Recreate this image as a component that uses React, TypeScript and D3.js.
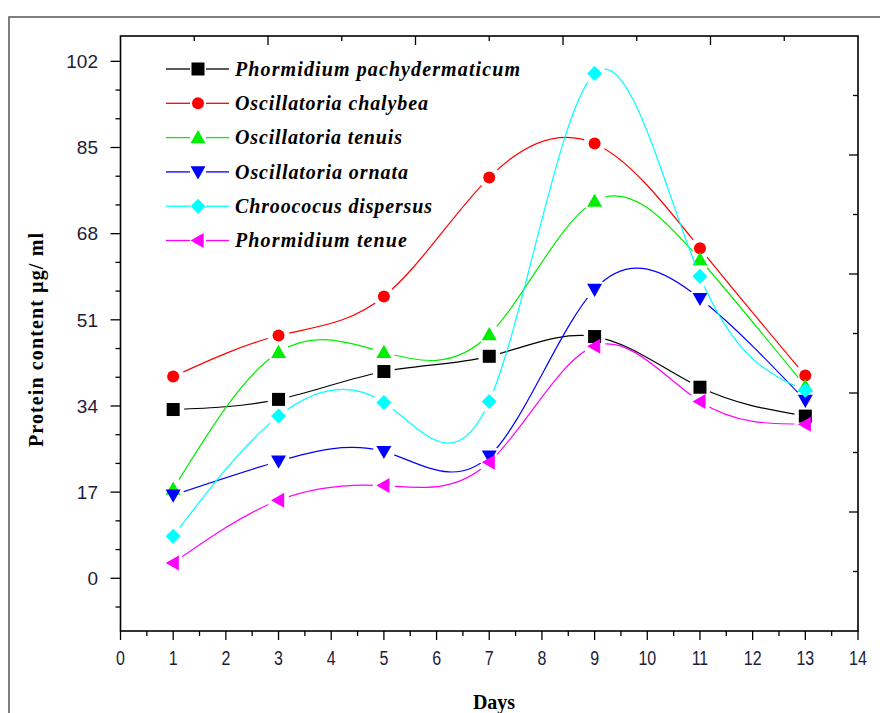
import React from 'react';
import * as d3 from 'd3';

const days = [1, 3, 5, 7, 9, 11, 13];
const seriesNames = [
  'Phormidium pachydermaticum',
  'Oscillatoria chalybea',
  'Oscillatoria tenuis',
  'Oscillatoria ornata',
  'Chroococus dispersus',
  'Phormidium tenue',
];
const pachydermaticum = [33.3, 35.3, 40.8, 43.8, 47.7, 37.7, 32.0];
const chalybea = [39.8, 47.9, 55.6, 79.1, 85.8, 65.1, 40.0];
const tenuis = [17.6, 44.6, 44.6, 48.1, 74.4, 62.9, 37.9];
const ornata = [16.4, 23.1, 25.0, 24.1, 57.0, 55.2, 35.1];
const dispersus = [8.3, 32.0, 34.7, 34.9, 99.6, 59.6, 37.1];
const tenue = [3.0, 15.4, 18.3, 22.9, 45.8, 34.9, 30.4];
const colors = ['#000000', '#ff0000', '#00ee00', '#0000ff', '#00ffff', '#ff00ff'];
const symbols = ['square', 'circle', 'up', 'down', 'diamond', 'left'];
const legendWidths = [285, 193, 167, 173, 197, 172];
const yTicks = [0, 17, 34, 51, 68, 85, 102];
const xTicks = d3.range(0, 15);

const W = 880;
const H = 713;
const left = 120.5;
const right = 858;
const top = 36;
const bottom = 631;

function Marker({ type, x, y, color }: { type: string; x: number; y: number; color: string }) {
  const s = 7.5;
  if (type === 'square') return <rect x={x - 6.5} y={y - 6.5} width={13} height={13} fill={color} />;
  if (type === 'circle') return <circle cx={x} cy={y} r={6} fill={color} />;
  let pts = '';
  if (type === 'up') pts = `${x},${y - s} ${x + s},${y + s * 0.75} ${x - s},${y + s * 0.75}`;
  if (type === 'down') pts = `${x},${y + s} ${x + s},${y - s * 0.75} ${x - s},${y - s * 0.75}`;
  if (type === 'left') pts = `${x - s},${y} ${x + s * 0.75},${y - s} ${x + s * 0.75},${y + s}`;
  if (type === 'diamond') pts = `${x},${y - s} ${x + s},${y} ${x},${y + s} ${x - s},${y}`;
  return <polygon points={pts} fill={color} />;
}

export default function App() {
  const allSeries = [pachydermaticum, chalybea, tenuis, ornata, dispersus, tenue];
  const x = d3.scaleLinear().domain([0, 14]).range([left, right]);
  const y = d3.scaleLinear().domain([-10.4, 107]).range([bottom, top]);
  const xTop = d3.scaleLinear().domain([0, 10]).range([left, right]);
  const yRight = d3.scaleLinear().domain([0, 10]).range([bottom, top]);

  const line = d3
    .line<number>()
    .x((_, i) => x(days[i]))
    .y((d) => y(d))
    .curve(d3.curveNatural);

  const yMinor = d3.range(-2, 20).map((k) => (k * 17) / 3).filter((v) => v >= -10.4 && v <= 107);
  const xMinor = d3.range(0, 29).map((k) => k / 2);

  return (
    <svg width={W} height={H} style={{ position: 'absolute', left: 0, top: 0, background: '#fff' }}>
      <defs>
        {allSeries.map((vals, si) => (
          <mask id={`gap${si}`} key={si} maskUnits="userSpaceOnUse" x={0} y={0} width={W} height={H}>
            <rect x={0} y={0} width={W} height={H} fill="#fff" />
            {vals.map((v, i) => (
              <circle key={i} cx={x(days[i])} cy={y(v)} r={11} fill="#000" />
            ))}
          </mask>
        ))}
      </defs>
      {/* outer frame */}
      <path d={`M9,${H + 2} V17 H${W + 2}`} fill="none" stroke="#555" strokeWidth={1.5} />

      {/* plot frame */}
      <rect x={left} y={top} width={right - left} height={bottom - top} fill="none" stroke="#000" strokeWidth={1.6} />

      {/* left axis ticks */}
      {yMinor.map((v, i) => {
        const major = Math.abs(v / 17 - Math.round(v / 17)) < 1e-6;
        return <line key={i} x1={left} x2={left - (major ? 10 : 5)} y1={y(v)} y2={y(v)} stroke="#000" strokeWidth={1.3} />;
      })}
      {yTicks.map((t) => (
        <text key={t} x={98} y={y(t)} dy="0.36em" textAnchor="end" fontFamily="Liberation Sans, Arial, sans-serif" fontSize={19} fill="#1c1c3c">
          {t}
        </text>
      ))}

      {/* bottom axis ticks */}
      {xMinor.map((v, i) => {
        const major = i % 2 === 0;
        return <line key={i} x1={x(v)} x2={x(v)} y1={bottom} y2={bottom + (major ? 9 : 5)} stroke="#000" strokeWidth={1.3} />;
      })}
      {xTicks.map((t) => (
        <text
          key={t}
          transform={`translate(${x(t)},665) scale(0.8,1)`}
          textAnchor="middle"
          fontFamily="Liberation Sans, Arial, sans-serif"
          fontSize={20}
          fill="#1c1c3c"
        >
          {t}
        </text>
      ))}

      {/* top axis ticks */}
      {d3.range(1, 10).map((k) => (
        <line key={k} x1={xTop(k)} x2={xTop(k)} y1={top} y2={top + (k % 2 === 0 ? 9 : 5)} stroke="#000" strokeWidth={1.3} />
      ))}
      {/* right axis ticks */}
      {d3.range(1, 10).map((k) => (
        <line key={k} x1={right} x2={right - (k % 2 === 0 ? 9 : 5)} y1={yRight(k)} y2={yRight(k)} stroke="#000" strokeWidth={1.3} />
      ))}

      {/* axis titles */}
      <text x={494} y={709} textAnchor="middle" fontFamily="Liberation Serif, Times New Roman, serif" fontWeight="bold" fontSize={20}>
        Days
      </text>
      <text
        transform="translate(43,340) rotate(-90)"
        textAnchor="middle"
        fontFamily="Liberation Serif, Times New Roman, serif"
        fontWeight="bold"
        fontSize={20}
        textLength={214}
        lengthAdjust="spacing"
      >
        Protein content µg/ ml
      </text>

      {/* series */}
      {allSeries.map((vals, si) => (
        <g key={si}>
          <path d={line(vals) || ''} fill="none" stroke={colors[si]} strokeWidth={1.2} mask={`url(#gap${si})`} />
          {vals.map((v, i) => (
            <Marker key={i} type={symbols[si]} x={x(days[i])} y={y(v)} color={colors[si]} />
          ))}
        </g>
      ))}

      {/* legend */}
      {seriesNames.map((name, si) => {
        const ly = 69 + si * 34.3;
        return (
          <g key={name}>
            <line x1={166} x2={190} y1={ly} y2={ly} stroke={colors[si]} strokeWidth={1.3} />
            <line x1={206} x2={229} y1={ly} y2={ly} stroke={colors[si]} strokeWidth={1.3} />
            <Marker type={symbols[si]} x={198} y={ly} color={colors[si]} />
            <text
              x={235}
              y={ly}
              dy="0.33em"
              fontFamily="Liberation Serif, Times New Roman, serif"
              fontStyle="italic"
              fontWeight="bold"
              fontSize={20}
              textLength={legendWidths[si]}
              lengthAdjust="spacing"
            >
              {name}
            </text>
          </g>
        );
      })}
    </svg>
  );
}
